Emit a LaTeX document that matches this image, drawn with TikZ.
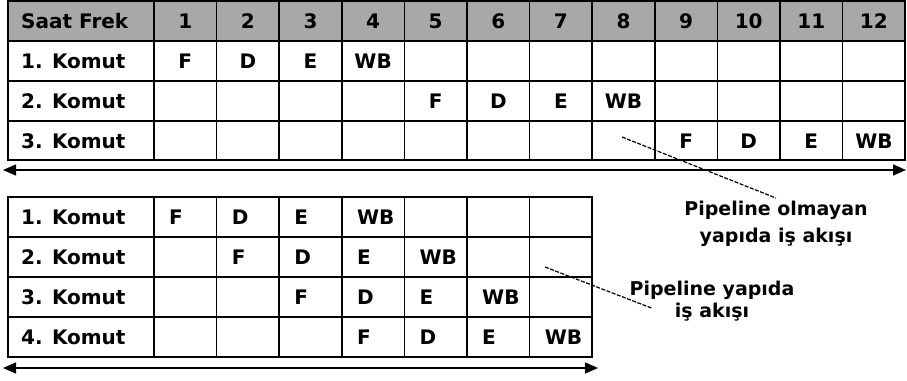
\documentclass[tikz,border=0pt]{standalone}
\usepackage{fontspec}
\setmainfont{DejaVu Sans}
\usetikzlibrary{arrows.meta,positioning}
\definecolor{headgray}{RGB}{168,168,168}

\begin{document}
\begin{tikzpicture}[x=1pt, y=-1pt,
  grid/.style={line width=1.7pt},
  celltext/.style={font=\bfseries\fontsize{20}{22}\selectfont, inner sep=0pt},
  notetext/.style={font=\bfseries\fontsize{19}{27}\selectfont, inner sep=0pt, align=center},
  timeline/.style={line width=1.4pt, {Triangle[length=13pt,width=11pt]}-{Triangle[length=13pt,width=11pt]}},
  leader/.style={line width=1.2pt, dash pattern=on 4pt off 1.5pt}]
  \useasboundingbox (0,0) rectangle (907,380);
  % sequential table
  \fill[headgray] (8,1) rectangle (905,41);
  \foreach \y in {41,81,121} \draw[grid] (8,\y) -- (905,\y);
  \foreach \k in {0,...,11} \draw[grid] ({154+62.6*\k},1) -- ({154+62.6*\k},160);
  \draw[grid] (8,1) rectangle (905,160);
  \node[celltext, anchor=west] (seq-head) at (21,21) {Saat Frek};
  \foreach \k in {1,...,12} \node[celltext] (seq-0-\k) at ({154+62.6*(\k-0.5)},21) {\k};
  \foreach \r in {1,2,3} {
    \node[celltext, anchor=west] (seq-\r-0) at (21,{21+40*\r}) {\r. Komut};
    \foreach \s [count=\i] in {F,D,E,WB} {
      \pgfmathtruncatemacro{\c}{4*(\r-1)+\i}
      \node[celltext] (seq-\r-\c) at ({154+62.6*(\c-0.5)},{21+40*\r}) {\s};
    }
  }
  \coordinate (seq-start) at (3,170);
  \coordinate (seq-end) at (906,170);
  \draw[timeline] (seq-start) -- (seq-end);

  % pipelined table
  \foreach \y in {237,277,317} \draw[grid] (8,\y) -- (592.2,\y);
  \foreach \k in {0,...,6} \draw[grid] ({154+62.6*\k},197) -- ({154+62.6*\k},357);
  \draw[grid] (8,197) rectangle (592.2,357);
  \foreach \r in {1,...,4} {
    \node[celltext, anchor=west] (pipe-\r-0) at (21,{217+40*(\r-1)}) {\r. Komut};
    \foreach \s [count=\i] in {F,D,E,WB} {
      \pgfmathtruncatemacro{\c}{\r+\i-1}
      \node[celltext, anchor=west] (pipe-\r-\c) at ({154+62.6*(\c-1)+15},{217+40*(\r-1)}) {\s};
    }
  }
  \coordinate (pipe-start) at (3,368);
  \coordinate (pipe-end) at (598,368);
  \draw[timeline] (pipe-start) -- (pipe-end);

  % notes
  \node[notetext] (seq-note) at (776,224) {Pipeline olmayan\\yapıda iş akışı};
  \coordinate (seq-mark) at (622,137);
  \draw[leader] (seq-mark) -- ([yshift=3pt]seq-note.north);
  \node[notetext, font=\bfseries\fontsize{19}{22}\selectfont] (pipe-note) at (712,301) {Pipeline yapıda\\iş akışı};
  \coordinate (pipe-mark) at (545,267);
  \draw[leader] (pipe-mark) -- ([xshift=22pt,yshift=-7pt]pipe-note.west);
\end{tikzpicture}
\end{document}
